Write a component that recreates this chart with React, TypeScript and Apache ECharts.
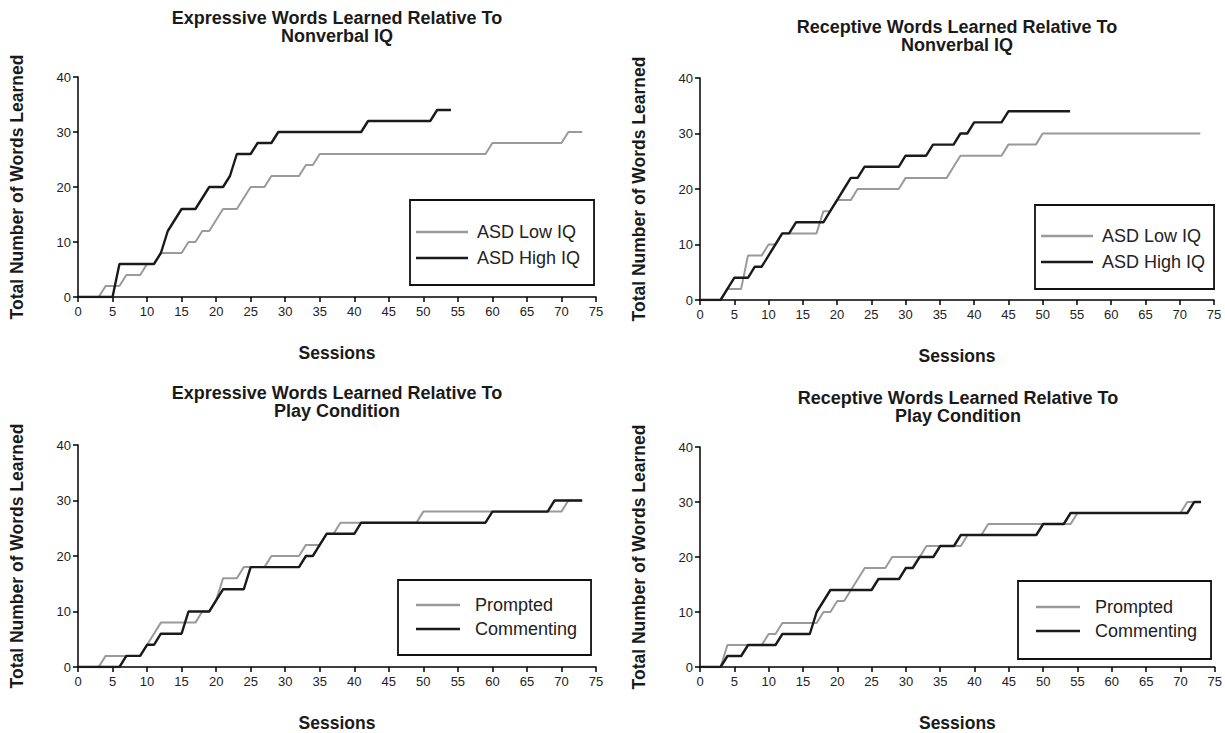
import React, { useEffect, useRef } from "react";
import * as echarts from "echarts";

type P = [number, number];

// Expressive words, nonverbal IQ
const expLowIQ: P[] = [[0,0],[3,0],[4,2],[6,2],[7,4],[9,4],[10,6],[11,6],[12,8],[15,8],[16,10],[17,10],[18,12],[19,12],[20,14],[21,16],[23,16],[24,18],[25,20],[27,20],[28,22],[32,22],[33,24],[34,24],[35,26],[59,26],[60,28],[70,28],[71,30],[73,30]];
const expHighIQ: P[] = [[0,0],[5,0],[6,6],[11,6],[12,8],[13,12],[14,14],[15,16],[17,16],[18,18],[19,20],[21,20],[22,22],[23,26],[25,26],[26,28],[28,28],[29,30],[41,30],[42,32],[51,32],[52,34],[54,34]];
// Receptive words, nonverbal IQ
const recLowIQ: P[] = [[0,0],[3,0],[4,2],[6,2],[7,8],[9,8],[10,10],[11,10],[12,12],[17,12],[18,16],[19,16],[20,18],[22,18],[23,20],[29,20],[30,22],[36,22],[37,24],[38,26],[44,26],[45,28],[49,28],[50,30],[73,30]];
const recHighIQ: P[] = [[0,0],[3,0],[4,2],[5,4],[7,4],[8,6],[9,6],[10,8],[11,10],[12,12],[13,12],[14,14],[18,14],[19,16],[20,18],[21,20],[22,22],[23,22],[24,24],[29,24],[30,26],[33,26],[34,28],[37,28],[38,30],[39,30],[40,32],[44,32],[45,34],[54,34]];
// Expressive words, play condition
const expPrompted: P[] = [[0,0],[3,0],[4,2],[9,2],[10,4],[11,6],[12,8],[17,8],[18,10],[19,10],[20,12],[21,16],[23,16],[24,18],[27,18],[28,20],[32,20],[33,22],[35,22],[36,24],[37,24],[38,26],[49,26],[50,28],[70,28],[71,30],[73,30]];
const expCommenting: P[] = [[0,0],[6,0],[7,2],[9,2],[10,4],[11,4],[12,6],[15,6],[16,10],[19,10],[20,12],[21,14],[24,14],[25,18],[32,18],[33,20],[34,20],[35,22],[36,24],[40,24],[41,26],[59,26],[60,28],[68,28],[69,30],[73,30]];
// Receptive words, play condition
const recPrompted: P[] = [[0,0],[3,0],[4,4],[9,4],[10,6],[11,6],[12,8],[17,8],[18,10],[19,10],[20,12],[21,12],[22,14],[23,16],[24,18],[27,18],[28,20],[32,20],[33,22],[38,22],[39,24],[41,24],[42,26],[54,26],[55,28],[70,28],[71,30],[73,30]];
const recCommenting: P[] = [[0,0],[3,0],[4,2],[6,2],[7,4],[11,4],[12,6],[16,6],[17,10],[18,12],[19,14],[25,14],[26,16],[29,16],[30,18],[31,18],[32,20],[34,20],[35,22],[37,22],[38,24],[49,24],[50,26],[53,26],[54,28],[71,28],[72,30],[73,30]];

const titles = [
  "Expressive Words Learned Relative To\nNonverbal IQ",
  "Receptive Words Learned Relative To\nNonverbal IQ",
  "Expressive Words Learned Relative To\nPlay Condition",
  "Receptive Words Learned Relative To\nPlay Condition",
];
const iqNames = ["ASD Low IQ", "ASD High IQ"];
const playNames = ["Prompted", "Commenting"];
const xAxisName = "Sessions";
const yAxisName = "Total Number of Words Learned";

const FONT = "'Liberation Sans', Arial, Helvetica, sans-serif";
const GRAY = "#9a9a9a";
const BLACK = "#1a1a1a";

const grids = [
  { left: 78, top: 77, width: 518, height: 220 },
  { left: 700, top: 78, width: 514, height: 222 },
  { left: 78, top: 445, width: 518, height: 222 },
  { left: 700, top: 447, width: 516, height: 222 },
];
const titlePos = [
  { x: 337, y: 9 },
  { x: 957, y: 18 },
  { x: 337, y: 384 },
  { x: 958, y: 389 },
];
const legendLayout = [
  { left: 410, top: 200, padding: [23, 14, 18, 6], itemWidth: 52, gap: 8, textPad: 4 },
  { left: 1035, top: 205, padding: [22, 9, 18, 6], itemWidth: 52, gap: 8, textPad: 4 },
  { left: 398, top: 580, padding: [16, 14, 17, 18], itemWidth: 44, gap: 6, textPad: 10 },
  { left: 1018, top: 581, padding: [17, 14, 19, 18], itemWidth: 44, gap: 6, textPad: 10 },
];

export default function App() {
  const ref = useRef<HTMLDivElement>(null);
  useEffect(() => {
    if (!ref.current) return;
    const chart = echarts.init(ref.current, null, { renderer: "svg" });
    const axisLine = { show: true, lineStyle: { color: "#000", width: 1.5 } };
    const axisTick = { show: true, inside: false, length: 5, lineStyle: { color: "#000", width: 1.5 } };
    const labelStyle = { color: "#222", fontSize: 13, fontFamily: FONT };
    const nameStyle = { color: "#1a1a1a", fontSize: 17.5, fontWeight: "bold" as const, fontFamily: FONT };
    const xAxis = grids.map((_, i) => ({
      type: "value" as const, gridIndex: i, min: 0, max: 75, interval: 5,
      axisLine, axisTick, splitLine: { show: false },
      axisLabel: { ...labelStyle, margin: 8 },
      name: xAxisName, nameLocation: "middle" as const, nameGap: 47, nameTextStyle: nameStyle,
    }));
    const yAxis = grids.map((_, i) => ({
      type: "value" as const, gridIndex: i, min: 0, max: 40, interval: 10,
      axisLine, axisTick, splitLine: { show: false },
      axisLabel: { ...labelStyle, margin: 7 },
      name: yAxisName, nameLocation: "middle" as const, nameGap: 52, nameTextStyle: nameStyle,
    }));
    const mk = (name: string, data: P[], idx: number, dark: boolean) => ({
      type: "line" as const, name, data, xAxisIndex: idx, yAxisIndex: idx,
      symbol: "none", showSymbol: false, silent: true,
      lineStyle: { color: dark ? BLACK : GRAY, width: dark ? 2.4 : 2 },
      itemStyle: { color: dark ? BLACK : GRAY },
    });
    const series = [
      mk(iqNames[0], expLowIQ, 0, false), mk(iqNames[1], expHighIQ, 0, true),
      mk(iqNames[0], recLowIQ, 1, false), mk(iqNames[1], recHighIQ, 1, true),
      mk(playNames[0], expPrompted, 2, false), mk(playNames[1], expCommenting, 2, true),
      mk(playNames[0], recPrompted, 3, false), mk(playNames[1], recCommenting, 3, true),
    ];
    const legend = legendLayout.map((p, i) => ({
      data: i < 2 ? iqNames : playNames,
      left: p.left, top: p.top, orient: "vertical" as const,
      selectedMode: false,
      borderColor: "#111", borderWidth: 1.8, borderRadius: 0,
      padding: p.padding,
      icon: "rect",
      itemGap: p.gap, itemWidth: p.itemWidth, itemHeight: 2.5,
      textStyle: { color: "#222", fontSize: 18, fontFamily: FONT, lineHeight: 18, padding: [0, 0, 0, p.textPad] },
    }));
    const graphic = titles.map((t, i) => ({
      type: "text" as const, x: titlePos[i].x, y: titlePos[i].y,
      style: { text: t, textAlign: "center" as const, fill: "#1a1a1a", font: `bold 18px ${FONT}`, lineHeight: 18 },
    }));
    chart.setOption({
      animation: false,
      backgroundColor: "#fff",
      grid: grids.map((g) => ({ ...g, containLabel: false })),
      xAxis, yAxis, series, legend, graphic,
    });
    return () => chart.dispose();
  }, []);
  return <div ref={ref} style={{ position: "absolute", left: 0, top: 0, width: 1225, height: 733 }} />;
}
